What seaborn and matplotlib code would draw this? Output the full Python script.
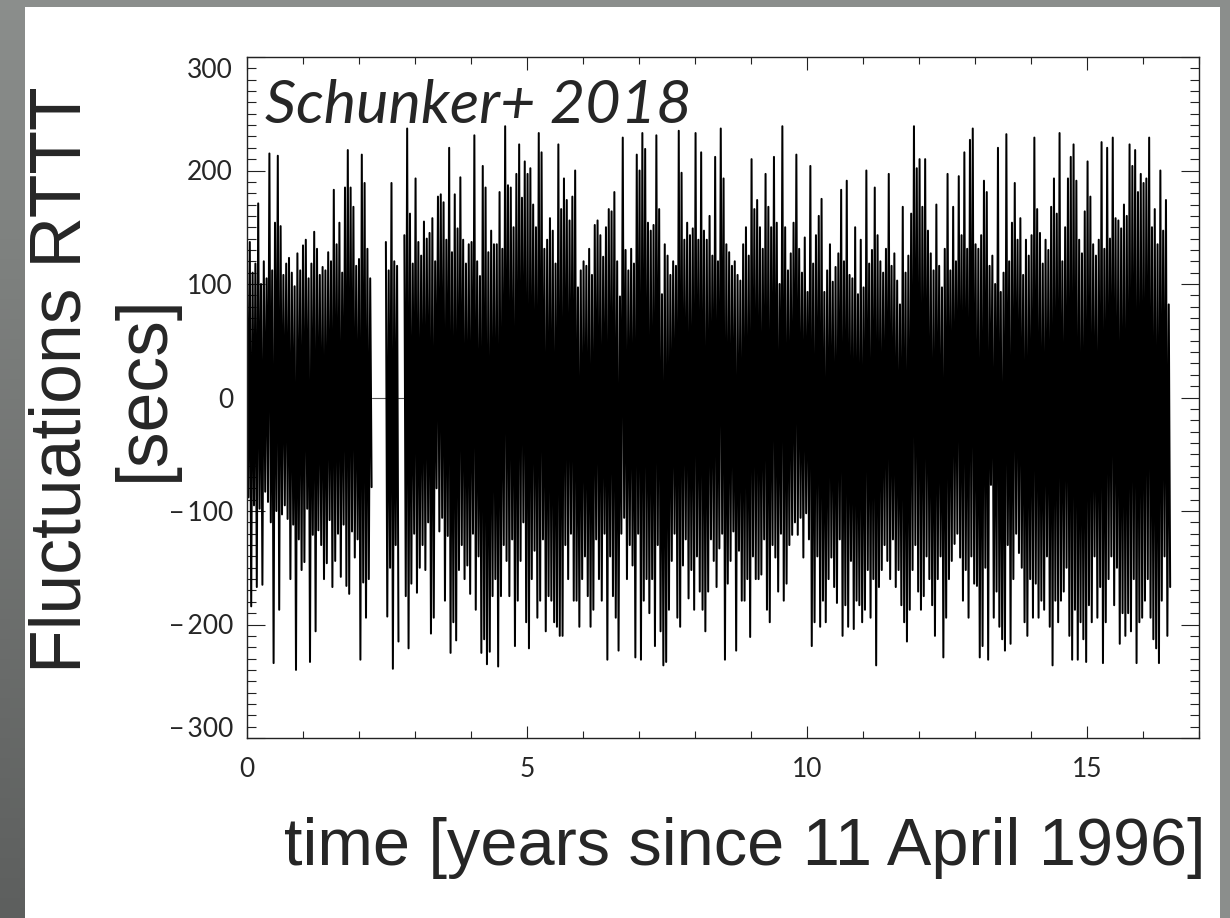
import numpy as np
import matplotlib
matplotlib.use("Agg")
import matplotlib.pyplot as plt
import matplotlib.transforms as mtransforms
from matplotlib.patches import Rectangle
from matplotlib.ticker import MultipleLocator, FixedLocator
import seaborn as sns

# Travel-time fluctuations, stored as upper/lower excursions per 0.05-year step
STEP = 0.05

# first stretch of observations (from 11 April 1996)
seg1_start = 0.0
seg1_hi = [123, 137, 110, 118, 171, 100, 120, 105, 215, 112, 154, 213, 151, 108, 118,
           123, 110, 98, 127, 112, 134, 139, 105, 118, 146, 131, 108, 115, 112, 128,
           120, 183, 135, 154, 110, 185, 218, 185, 168, 116, 122, 214, 189, 131, 105]
seg1_lo = [-88, -184, -95, -167, -98, -165, -83, -92, -110, -234, -100, -187, -103, -95, -107,
           -160, -112, -240, -125, -152, -145, -98, -233, -121, -206, -117, -130, -160, -146, -108,
           -167, -144, -120, -158, -112, -166, -173, -118, -141, -125, -231, -163, -194, -160, -79]

# short stretch between the two gaps
seg2_start = 2.48
seg2_hi = [137, 112, 189, 120, 116]
seg2_lo = [-193, -150, -239, -130, -215]

# main stretch
seg3_start = 2.81
seg3_hi = [
    # 2.81 - 3.25
    143, 237, 162, 118, 193, 137, 125, 155, 140,
    # 3.27 - 6.52
    145, 158, 120, 177, 179, 172, 139, 220, 128, 179, 149, 194, 139, 118, 135, 137, 231,
    120, 107, 204, 185, 128, 147, 135, 135, 181, 131, 239, 187, 185, 150, 197, 223, 176,
    208, 197, 202, 170, 150, 233, 216, 131, 139, 158, 147, 118, 223, 166, 193, 174, 156,
    177, 200, 97, 112, 120, 116, 131, 108, 152, 156, 143, 124, 150, 166, 164,
    # 6.57 - 9.82
    181, 120, 89, 229, 130, 112, 131, 118, 214, 200, 233, 219, 154, 147, 152, 231, 166,
    91, 135, 125, 108, 120, 116, 235, 198, 139, 154, 143, 149, 233, 139, 216, 147, 139,
    160, 125, 212, 120, 237, 193, 135, 128, 116, 120, 108, 103, 135, 150, 125, 210, 166,
    174, 150, 131, 197, 168, 150, 212, 154, 100, 239, 150, 112, 127, 154, 214,
    # 9.87 - 13.12
    131, 110, 141, 93, 204, 118, 143, 160, 175, 93, 112, 135, 102, 115, 127, 183, 120,
    191, 108, 105, 150, 91, 139, 97, 200, 118, 130, 185, 143, 120, 110, 131, 197, 116,
    127, 103, 82, 168, 110, 125, 162, 239, 202, 210, 168, 210, 147, 127, 112, 170, 116,
    97, 131, 197, 112, 168, 120, 195, 143, 216, 131, 227, 237, 135, 131, 143,
    # 13.17 - 16.46
    191, 181, 116, 125, 100, 220, 93, 110, 232, 120, 154, 189, 139, 158, 108, 139, 125,
    143, 229, 166, 145, 118, 139, 130, 168, 193, 162, 233, 120, 150, 193, 212, 223, 191,
    139, 127, 164, 208, 177, 135, 125, 139, 225, 131, 220, 140, 229, 158, 156, 149, 170,
    160, 223, 204, 218, 181, 197, 189, 193, 229, 150, 166, 135, 200, 147, 174, 82,
]
seg3_lo = [
    -175, -221, -164, -120, -172, -150, -130, -152, -110,
    -208, -194, -80, -118, -106, -179, -122, -225, -198, -214, -152, -130, -160, -148, -173,
    -120, -187, -140, -225, -213, -235, -224, -175, -160, -237, -175, -130, -144, -175, -125,
    -219, -179, -144, -110, -198, -221, -160, -135, -194, -179, -125, -206, -175, -179, -198,
    -202, -210, -210, -130, -160, -120, -179, -179, -202, -160, -140, -175, -202, -187, -125,
    -160, -179, -120, -231, -140, -175,
    -194, -223, -120, -106, -160, -130, -148, -229, -120, -231, -179, -160, -190, -160, -219,
    -130, -206, -236, -233, -187, -144, -120, -194, -202, -148, -125, -177, -152, -187, -140,
    -171, -187, -206, -171, -125, -144, -167, -133, -120, -231, -164, -144, -118, -223, -135,
    -179, -179, -160, -211, -140, -160, -160, -156, -125, -187, -198, -130, -141, -171, -120,
    -179, -164, -130, -121, -110, -121,
    -106, -141, -102, -125, -219, -198, -140, -202, -179, -198, -160, -141, -167, -181, -125,
    -210, -183, -202, -144, -204, -179, -183, -198, -187, -152, -194, -160, -236, -167, -152,
    -130, -144, -160, -125, -167, -152, -183, -198, -215, -187, -152, -130, -171, -187, -175,
    -140, -160, -183, -210, -160, -140, -229, -194, -160, -144, -129, -120, -141, -179, -152,
    -194, -140, -164, -166, -229, -219,
    -150, -231, -77, -194, -171, -202, -213, -223, -130, -217, -160, -120, -137, -150, -198,
    -210, -160, -194, -164, -194, -179, -187, -140, -202, -236, -179, -198, -179, -171, -150,
    -210, -231, -187, -231, -198, -213, -233, -183, -198, -140, -194, -167, -234, -198, -160,
    -140, -183, -150, -217, -190, -210, -190, -206, -160, -234, -198, -194, -179, -160, -194,
    -213, -221, -234, -179, -140, -210, -167,
]

# zero level recorded inside the two data gaps (start, end in years)
gaps = [(2.225, 2.48), (2.705, 2.81)]

y_ticks = [-300, -200, -100, 0, 100, 200, 300]
x_ticks = [0, 5, 10, 15]


def interleave(start, hi, lo):
    n = len(hi)
    t_hi = start + STEP * np.arange(n)
    t = np.empty(2 * n)
    v = np.empty(2 * n)
    t[0::2], t[1::2] = t_hi, t_hi + STEP / 2
    v[0::2], v[1::2] = hi, lo
    return t, v


segments = [interleave(seg1_start, seg1_hi, seg1_lo),
            interleave(seg2_start, seg2_hi, seg2_lo),
            interleave(seg3_start, seg3_hi, seg3_lo)]

sns.set_theme(style="ticks")
plt.rcParams["font.family"] = ["Lato", "DejaVu Sans"]

fig = plt.figure(figsize=(12.3, 9.18), dpi=100)

# slide-style backdrop: grey gradient frame with a white panel
bg = fig.add_axes([0, 0, 1, 1], zorder=-10)
yy, xx = np.mgrid[0:1:92j, 0:1:123j]
dark = yy * (1 - xx)
rgb = np.stack([0x8b - 0x2e * dark, 0x8e - 0x2f * dark, 0x8c - 0x2e * dark], axis=-1) / 255
bg.imshow(rgb, extent=[0, 1, 0, 1], aspect="auto", origin="upper")
bg.add_patch(Rectangle((25 / 1230, 0), (1220 - 25) / 1230, (918 - 7) / 918,
                       transform=bg.transAxes, facecolor="white", edgecolor="none"))
bg.set_xlim(0, 1)
bg.set_ylim(0, 1)
bg.axis("off")

ax = fig.add_axes([247 / 1230, 1 - 738 / 918, (1199 - 247) / 1230, (738 - 57) / 918])
ax.set_facecolor("white")

for g0, g1 in gaps:
    sns.lineplot(x=[g0, g1], y=[0, 0], sort=False, estimator=None, color="#555555",
                 linewidth=0.8, ax=ax)
for t, v in segments:
    sns.lineplot(x=t, y=v, sort=False, estimator=None, color="black",
                 linewidth=1.45, ax=ax)

ax.set_xlim(0, 17)
ax.set_ylim(-300, 300)
ax.yaxis.set_major_locator(FixedLocator(y_ticks))
ax.xaxis.set_major_locator(FixedLocator(x_ticks))
ax.yaxis.set_minor_locator(MultipleLocator(10))
ax.xaxis.set_minor_locator(MultipleLocator(1))
ax.set_yticklabels([f"{v}".replace("-", "\u2212\u2009") for v in y_ticks])
ax.set_xticklabels([str(v) for v in x_ticks])

for side in ax.spines.values():
    side.set_visible(True)
    side.set_color("#222222")
    side.set_linewidth(1.0)

ax.tick_params(axis="both", which="both", direction="in", top=True, right=True,
               color="#222222", width=0.8)
ax.tick_params(axis="y", which="major", length=13, pad=10, labelsize=19)
ax.tick_params(axis="y", which="minor", length=6.5)
ax.tick_params(axis="x", which="major", length=9, pad=14, labelsize=19)
ax.tick_params(axis="x", which="minor", length=4.8)
ax.set_xlabel("")
ax.set_ylabel("")

# end labels of the y axis sit just inside the frame
yt = ax.yaxis.get_major_ticks()
shift = 11 / 100
yt[0].label1.set_transform(yt[0].label1.get_transform()
                           + mtransforms.ScaledTranslation(0, shift, fig.dpi_scale_trans))
yt[-1].label1.set_transform(yt[-1].label1.get_transform()
                            + mtransforms.ScaledTranslation(0, -shift, fig.dpi_scale_trans))

ax.text(0.019, 0.903, "Schunker+ 2018", transform=ax.transAxes, ha="left",
        va="baseline", fontsize=44, fontstyle="italic", family=["Lato", "DejaVu Sans"])

label_font = ["Liberation Sans", "DejaVu Sans"]
fig.text(62 / 1230, 1 - 380 / 918, "Fluctuations RTTT", rotation=90,
         ha="center", va="center", fontsize=51.5, family=label_font)
fig.text(144 / 1230, 1 - 388 / 918, "[secs]", rotation=90,
         ha="center", va="center", fontsize=51.5, family=label_font)
fig.text(1205 / 1230, 1 - 865 / 918, "time [years since 11 April 1996]", ha="right",
         va="baseline", fontsize=48, family=label_font)

fig.savefig("out.png", dpi=100)
